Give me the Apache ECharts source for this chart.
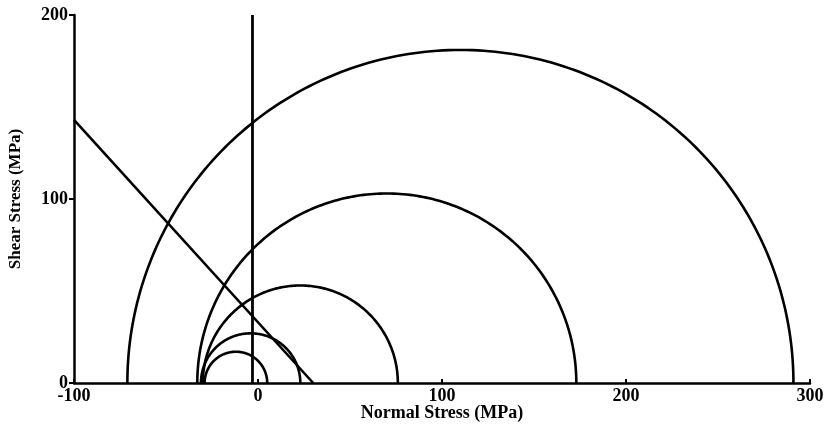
<!DOCTYPE html>
<html>
<head>
<meta charset="utf-8">
<script src="https://cdn.jsdelivr.net/npm/echarts@6/dist/echarts.min.js"></script>
<style>
html,body{margin:0;padding:0;background:#fff;}
#chart{width:828px;height:425px;}
</style>
</head>
<body>
<div id="chart"></div>
<script>
// Mohr circles: centre (normal stress) and radius, MPa
const circleCenters = [110, 70, 23, -4, -12];
const circleRadii = [181, 103, 53, 27, 17];
// Failure envelope line
const envelopeX = [-100, 30];
const envelopeY = [143, 0];
// Vertical line
const verticalX = [-3, -3];
const verticalY = [0, 200];
// Axis ticks
const xTicks = [-100, 0, 100, 200, 300];
const yTicks = [0, 100, 200];

const font = '"Liberation Serif", "DejaVu Serif", serif';
const chart = echarts.init(document.getElementById('chart'));

const circleData = circleCenters.map((c, i) => [c, circleRadii[i]]);

chart.setOption({
  animation: false,
  backgroundColor: '#fff',
  grid: { left: 74, right: 18, top: 15, bottom: 42, containLabel: false, outerBoundsMode: 'none' },
  xAxis: {
    type: 'value',
    min: xTicks[0], max: xTicks[xTicks.length - 1], interval: 100,
    name: 'Normal Stress (MPa)', nameLocation: 'middle', nameGap: 21, nameMoveOverlap: false,
    nameTextStyle: { fontFamily: font, fontWeight: 'bold', fontSize: 18, color: '#000' },
    axisLine: { onZero: false, lineStyle: { color: '#000', width: 2.5 } },
    axisTick: { inside: true, length: 4, lineStyle: { color: '#000', width: 2 } },
    axisLabel: { fontFamily: font, fontWeight: 'bold', fontSize: 18, color: '#000', margin: 4 },
    splitLine: { show: false }
  },
  yAxis: {
    type: 'value',
    min: yTicks[0], max: yTicks[yTicks.length - 1], interval: 100,
    name: 'Shear Stress (MPa)', nameLocation: 'middle', nameGap: 50, nameMoveOverlap: false,
    nameTextStyle: { fontFamily: font, fontWeight: 'bold', fontSize: 17, color: '#000' },
    axisLine: { onZero: false, lineStyle: { color: '#000', width: 2.5 } },
    axisTick: { length: 5, lineStyle: { color: '#000', width: 2 } },
    axisLabel: { fontFamily: font, fontWeight: 'bold', fontSize: 18, color: '#000', margin: 6 },
    splitLine: { show: false }
  },
  series: [
    {
      type: 'custom',
      data: circleData,
      clip: true,
      renderItem: function (params, api) {
        const c = api.value(0), r = api.value(1);
        const pts = [];
        for (let a = 0; a <= 180; a += 1) {
          const t = a * Math.PI / 180;
          pts.push(api.coord([c + r * Math.cos(t), r * Math.sin(t)]));
        }
        return {
          type: 'polyline',
          shape: { points: pts },
          style: { stroke: '#000', lineWidth: 2.6, fill: null }
        };
      }
    },
    {
      type: 'line',
      data: envelopeX.map((x, i) => [x, envelopeY[i]]),
      symbol: 'none',
      lineStyle: { color: '#000', width: 2.6 }
    },
    {
      type: 'line',
      data: verticalX.map((x, i) => [x, verticalY[i]]),
      symbol: 'none',
      lineStyle: { color: '#000', width: 2.8 }
    }
  ]
});
</script>
</body>
</html>
